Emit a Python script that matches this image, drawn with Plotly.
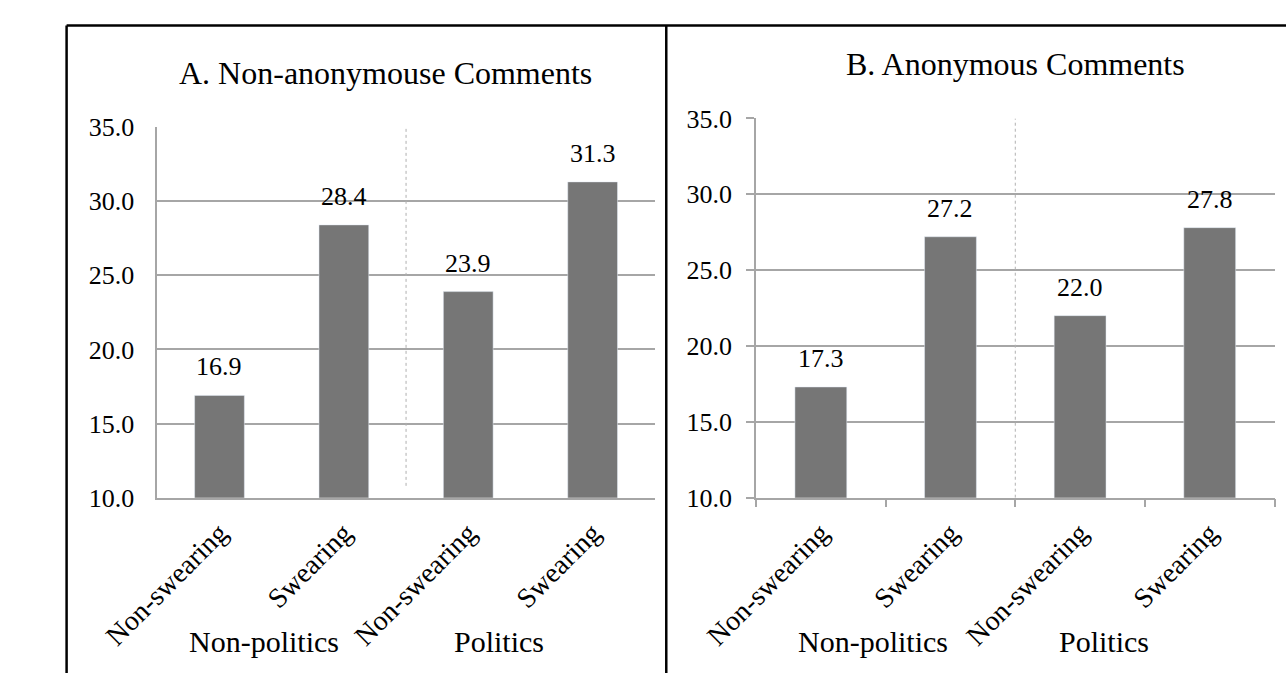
import plotly.graph_objects as go

categories = ["Non-swearing", "Swearing", "Non-swearing", "Swearing"]
groups = ["Non-politics", "Politics"]
values_a = [16.9, 28.4, 23.9, 31.3]
values_b = [17.3, 27.2, 22.0, 27.8]
title_a = "A. Non-anonymouse Comments"
title_b = "B. Anonymous Comments"
y_ticks = [10, 15, 20, 25, 30, 35]

W, H = 1286, 688
FONT = "Liberation Serif"
BAR = "#767676"
GRID = "#A6A6A6"

def px_x(p):
    return p / W

def px_y(p):
    return 1 - p / H

xs = list(range(len(categories)))

fig = go.Figure()
fig.add_trace(go.Bar(x=xs, y=values_a, width=0.4, marker_color=BAR,
                     xaxis="x", yaxis="y", showlegend=False, hoverinfo="skip"))
fig.add_trace(go.Bar(x=xs, y=values_b, width=0.4, marker_color=BAR,
                     xaxis="x2", yaxis="y2", showlegend=False, hoverinfo="skip"))

common_y = dict(range=[10, 35], tickvals=y_ticks, tickformat=".1f",
                showgrid=True, gridcolor=GRID, gridwidth=1.5,
                showline=True, linecolor=GRID, linewidth=1.5,
                tickfont=dict(family=FONT, size=26, color="black"),
                zeroline=False, fixedrange=True)
common_x = dict(range=[-0.5, 3.5], tickvals=xs, ticktext=categories, tickangle=-45,
                showgrid=False, showline=True, linecolor=GRID, linewidth=1.5,
                tickfont=dict(family=FONT, size=28, color="black"),
                zeroline=False, fixedrange=True)

fig.update_layout(
    width=W, height=H, margin=dict(l=0, r=0, t=0, b=0),
    paper_bgcolor="white", plot_bgcolor="white",
    font=dict(family=FONT, color="black"),
    xaxis=dict(domain=[px_x(104), px_x(625)], anchor="y", ticks="",
               ticklabelstandoff=6, **common_x),
    yaxis=dict(domain=[px_y(505), px_y(118)], anchor="x", ticks="",
               ticklabelstandoff=16, **common_y),
    xaxis2=dict(domain=[px_x(731), px_x(1274)], anchor="y2", ticks="",
                ticklabelstandoff=6,
                minor=dict(tickmode="linear", tick0=-0.5, dtick=1, ticks="outside",
                           ticklen=8, tickcolor=GRID, tickwidth=1.5, showgrid=False),
                **common_x),
    yaxis2=dict(domain=[px_y(505), px_y(109)], anchor="x2", ticks="outside",
                ticklen=8, tickcolor=GRID, tickwidth=1.5,
                ticklabelstandoff=9, **common_y),
    bargap=0.6,
)

annotations = []
# value labels
for ax, vals in (("", values_a), ("2", values_b)):
    for xi, v in zip(xs, vals):
        annotations.append(dict(x=xi, y=v, xref="x" + ax, yref="y" + ax,
                                text=f"{v:.1f}", showarrow=False, xanchor="center",
                                yanchor="bottom", yshift=12,
                                font=dict(family=FONT, size=26, color="black")))
# group labels
for ax, shifts in (("", (-18, -31)), ("2", (-13, -41))):
    for gi, g in enumerate(groups):
        annotations.append(dict(x=0.5 + 2 * gi, y=px_y(655), xref="x" + ax, yref="paper",
                                text=g, showarrow=False, xshift=shifts[gi],
                                xanchor="center", yanchor="middle",
                                font=dict(family=FONT, size=30, color="black")))
# titles
annotations.append(dict(x=px_x(343), y=px_y(62), xref="paper", yref="paper", text=title_a,
                        showarrow=False, xanchor="center", yanchor="middle",
                        font=dict(family=FONT, size=32, color="black")))
annotations.append(dict(x=px_x(1003), y=px_y(52), xref="paper", yref="paper", text=title_b,
                        showarrow=False, xanchor="center", yanchor="middle",
                        font=dict(family=FONT, size=32, color="black")))
fig.update_layout(annotations=annotations)

shapes = [
    # dotted group separators
    dict(type="line", xref="x", yref="y", x0=1.5, x1=1.5, y0=10.8, y1=35,
         line=dict(color="#B0B0B0", width=1, dash="dot")),
    dict(type="line", xref="x2", yref="y2", x0=1.5, x1=1.5, y0=10, y1=35,
         line=dict(color="#B0B0B0", width=1, dash="dot")),
    # outer frame lines
    dict(type="line", xref="paper", yref="paper", x0=px_x(9), x1=px_x(9), y0=0, y1=px_y(12),
         line=dict(color="black", width=2.5)),
    dict(type="line", xref="paper", yref="paper", x0=px_x(9), x1=1, y0=px_y(12), y1=px_y(12),
         line=dict(color="black", width=2.5)),
    dict(type="line", xref="paper", yref="paper", x0=px_x(637), x1=px_x(637), y0=0, y1=px_y(12),
         line=dict(color="black", width=2.5)),
]
fig.update_layout(shapes=shapes)

fig.write_html("out.html")
